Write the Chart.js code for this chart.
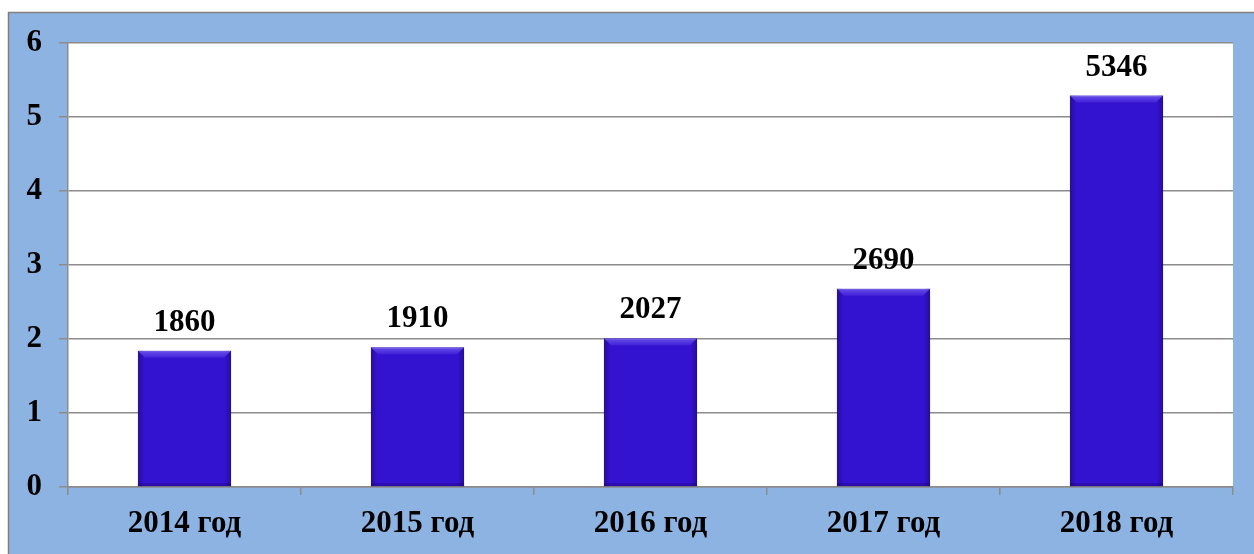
<!DOCTYPE html>
<html lang="ru">
<head>
<meta charset="utf-8">
<title>2014–2018</title>
<script src="https://cdn.jsdelivr.net/npm/chart.js@4"></script>
<style>
    html, body { margin: 0; padding: 0; background: #ffffff; }
    #wrap { width: 1254px; height: 554px; position: relative; }
</style>
</head>
<body>
<div id="wrap"><canvas id="chart"></canvas></div>
<script>
const categories = ['2014 год', '2015 год', '2016 год', '2017 год', '2018 год'];
const barHeights = [1.84, 1.89, 2.01, 2.68, 5.29];
const barLabels = ['1860', '1910', '2027', '2690', '5346'];
const yTicks = [0, 1, 2, 3, 4, 5, 6];

const FONT = '"Liberation Serif", "Times New Roman", serif';
const GRID = '#8c8c8c';

// blue panel behind everything, white plot area
const panel = {
    id: 'panel',
    beforeDraw(chart) {
        const { ctx, chartArea: a, width, height } = chart;
        ctx.save();
        ctx.fillStyle = '#8db3e2';
        ctx.fillRect(8, 12, width - 8, height - 12);
        ctx.strokeStyle = '#7f7f7f';
        ctx.lineWidth = 1.5;
        ctx.beginPath();
        ctx.moveTo(8.5, height);
        ctx.lineTo(8.5, 12.5);
        ctx.lineTo(width, 12.5);
        ctx.stroke();
        ctx.fillStyle = '#ffffff';
        ctx.fillRect(a.left, a.top, a.right - a.left, a.bottom - a.top);
        ctx.restore();
    },
};

// soft shadow under bars
const barShadow = {
    id: 'barShadow',
    beforeDatasetsDraw(chart) {
        const { ctx } = chart;
        ctx.save();
        ctx.shadowColor = 'rgba(0,0,0,0.35)';
        ctx.shadowBlur = 5;
        ctx.shadowOffsetX = 1;
        ctx.shadowOffsetY = 1;
    },
    afterDatasetsDraw(chart) {
        chart.ctx.restore();
    },
};

// bevel look + value labels
const barDecor = {
    id: 'barDecor',
    afterDatasetsDraw(chart) {
        const { ctx } = chart;
        const meta = chart.getDatasetMeta(0);
        ctx.save();
        meta.data.forEach((bar, i) => {
            const left = bar.x - bar.width / 2;
            const right = bar.x + bar.width / 2;
            const top = bar.y;
            const bottom = bar.base;
            const b = 7;
            // side shading
            const side = ctx.createLinearGradient(left, 0, right, 0);
            side.addColorStop(0, 'rgba(20,0,90,0.4)');
            side.addColorStop(0.07, 'rgba(20,0,90,0.0)');
            side.addColorStop(0.93, 'rgba(20,0,90,0.0)');
            side.addColorStop(1, 'rgba(20,0,90,0.4)');
            ctx.fillStyle = side;
            ctx.fillRect(left, top, right - left, bottom - top);
            // top highlight, fading downward
            const hl = ctx.createLinearGradient(0, top, 0, top + b);
            hl.addColorStop(0, 'rgba(140,120,255,0.6)');
            hl.addColorStop(1, 'rgba(140,120,255,0.15)');
            ctx.fillStyle = hl;
            ctx.beginPath();
            ctx.moveTo(left, top);
            ctx.lineTo(right, top);
            ctx.lineTo(right - b, top + b);
            ctx.lineTo(left + b, top + b);
            ctx.closePath();
            ctx.fill();
            // bottom edge
            ctx.fillStyle = 'rgba(20,0,90,0.3)';
            ctx.fillRect(left, bottom - 3, right - left, 3);

            ctx.fillStyle = '#000000';
            ctx.font = `bold 31px ${FONT}`;
            ctx.textAlign = 'center';
            ctx.textBaseline = 'alphabetic';
            ctx.fillText(barLabels[i], bar.x, top - 20);
        });
        ctx.restore();
    },
};

new Chart(document.getElementById('chart'), {
    type: 'bar',
    data: {
        labels: categories,
        datasets: [{
            data: barHeights,
            backgroundColor: '#3413d0',
            borderColor: '#2a0ca8',
            borderWidth: 1,
            barPercentage: 0.4,
            categoryPercentage: 1,
        }],
    },
    options: {
        responsive: true,
        maintainAspectRatio: false,
        animation: false,
        layout: { padding: { left: 8, top: 43, right: 21, bottom: 0 } },
        plugins: {
            legend: { display: false },
            tooltip: { enabled: false },
        },
        scales: {
            x: {
                grid: {
                    drawOnChartArea: false,
                    drawTicks: true,
                    tickLength: 8,
                    color: GRID,
                    lineWidth: 1.5,
                },
                border: { color: GRID, width: 1.5 },
                ticks: {
                    color: '#000000',
                    font: { family: FONT, size: 31, weight: 'bold' },
                    padding: 10,
                    maxRotation: 0,
                },
                afterFit(scale) { scale.height = 67; },
            },
            y: {
                min: 0,
                max: 6,
                afterBuildTicks(scale) { scale.ticks = yTicks.map((v) => ({ value: v })); },
                grid: {
                    color: GRID,
                    lineWidth: 1.5,
                    tickLength: 9,
                },
                border: { color: GRID, width: 1.5 },
                ticks: {
                    color: '#000000',
                    font: { family: FONT, size: 31, weight: 'bold' },
                    padding: 17,
                },
                afterFit(scale) { scale.width = 60; },
            },
        },
    },
    plugins: [panel, barShadow, barDecor],
});
</script>
</body>
</html>
